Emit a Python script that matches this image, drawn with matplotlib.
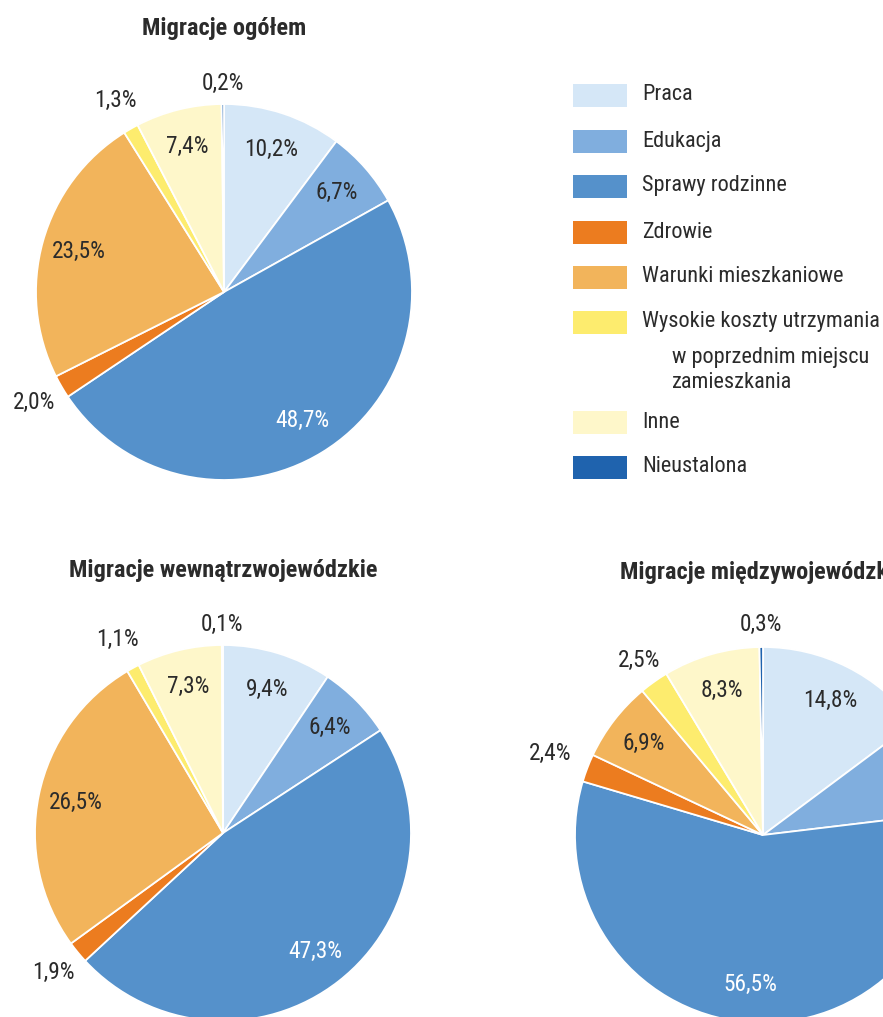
import matplotlib.pyplot as plt
from matplotlib.patches import Rectangle
import numpy as np
import logging

logging.getLogger('matplotlib.font_manager').setLevel(logging.ERROR)

# Reasons for migration (percent of all moves)
categories = ['Praca', 'Edukacja', 'Sprawy rodzinne', 'Zdrowie', 'Warunki mieszkaniowe',
              'Wysokie koszty utrzymania\nw poprzednim miejscu\nzamieszkania', 'Inne', 'Nieustalona']
colors = ['#d5e7f7', '#80aede', '#5591cb', '#ec7c1f', '#f2b45b', '#fdec6e', '#fef7ca', '#1f63ae']

total = [10.2, 6.7, 48.7, 2.0, 23.5, 1.3, 7.4, 0.2]
intra = [9.4, 6.4, 47.3, 1.9, 26.5, 1.1, 7.3, 0.1]
inter = [14.8, 8.3, 56.5, 2.4, 6.9, 2.5, 8.3, 0.3]

titles = ['Migracje ogółem', 'Migracje wewnątrzwojewódzkie', 'Migracje międzywojewódzkie']

W, H = 883, 1017
plt.rcParams['font.family'] = ['Liberation Sans Narrow', 'Roboto Condensed', 'Archivo Narrow', 'DejaVu Sans']

TXT = '#2b2b2b'
LABEL_FS = 16.8
LEGEND_FS = 16
TITLE_FS = 17.6

fig = plt.figure(figsize=(W / 100, H / 100), dpi=100)
fig.patch.set_facecolor('white')


def pie_at(values, cx, cy, r, title, outside):
    ax = fig.add_axes([(cx - r) / W, (H - cy - r) / H, 2 * r / W, 2 * r / H])
    wedges, _ = ax.pie(values, colors=colors, startangle=90, counterclock=False,
                       radius=1, wedgeprops=dict(edgecolor='white', linewidth=1.3))
    ax.set_xlim(-1, 1)
    ax.set_ylim(-1, 1)
    ax.set_aspect('equal')
    ax.axis('off')
    # slice labels, small slices get their label outside the pie
    for i, (w, v) in enumerate(zip(wedges, values)):
        mid = np.deg2rad((w.theta1 + w.theta2) / 2)
        d = outside.get(i, 0.8)
        col = 'white' if i == 2 else TXT
        ax.text(d * np.cos(mid), d * np.sin(mid), f'{v:.1f}'.replace('.', ',') + '%',
                ha='center', va='center', fontsize=LABEL_FS, color=col, clip_on=False)
    fig.text(cx / W, 1 - (cy - r - 75) / H, title, ha='center', va='center',
             fontsize=TITLE_FS, fontweight='bold', color=TXT)


pie_at(total, 224, 292, 188, titles[0], {3: 1.17, 5: 1.17, 7: 1.11})
pie_at(intra, 223, 833, 188, titles[1], {3: 1.17, 5: 1.17, 7: 1.11})
pie_at(inter, 763, 835, 188, titles[2], {3: 1.21, 5: 1.14, 7: 1.12})

# legend drawn in pixel coordinates
lg = fig.add_axes([0, 0, 1, 1])
lg.set_xlim(0, W)
lg.set_ylim(H, 0)
lg.axis('off')
rows_y = [95, 141, 186, 232, 277, 322, 422, 467]
for c, label, y in zip(colors, categories, rows_y):
    lg.add_patch(Rectangle((573, y - 11.5), 54, 23, facecolor=c, edgecolor='none'))
    lines = label.split('\n')
    lg.text(642, y, lines[0], ha='left', va='center', fontsize=LEGEND_FS, color=TXT)
    for k, extra in enumerate(lines[1:]):
        lg.text(672, y + 35 + 25 * k, extra, ha='left', va='center', fontsize=LEGEND_FS, color=TXT)

fig.savefig('out.png', dpi=100, facecolor='white')
